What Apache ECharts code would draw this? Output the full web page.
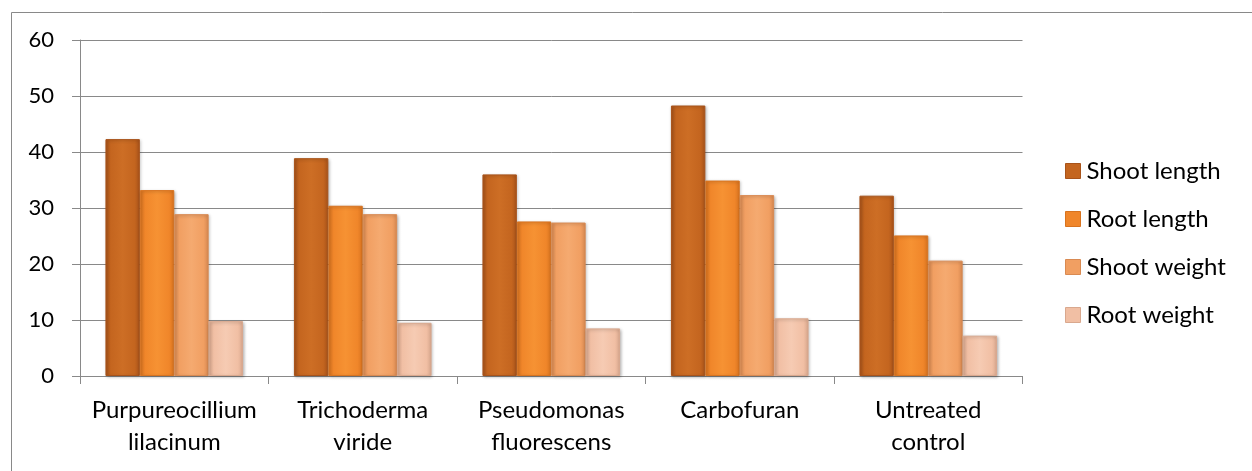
<!DOCTYPE html>
<html>
<head>
<meta charset="utf-8">
<script src="https://cdn.jsdelivr.net/npm/echarts@6/dist/echarts.min.js"></script>
<style>
  html, body { margin: 0; padding: 0; background: #fff; }
  #chart { width: 1252px; height: 471px; }
</style>
</head>
<body>
<div id="chart"></div>
<script>
// treatments on the x axis
var categories = ['Purpureocillium\nlilacinum', 'Trichoderma\nviride', 'Pseudomonas\nfluorescens', 'Carbofuran', 'Untreated\ncontrol'];
var seriesNames = ['Shoot length', 'Root length', 'Shoot weight', 'Root weight'];
var shootLength = [42.3, 38.9, 36.0, 48.3, 32.2];
var rootLength = [33.2, 30.4, 27.6, 34.9, 25.1];
var shootWeight = [28.9, 28.9, 27.4, 32.3, 20.6];
var rootWeight = [9.8, 9.5, 8.5, 10.3, 7.2];

var FONT = 'Lato';
var AXIS_GRAY = '#898989';

// bevel-ish look: darker edges, lighter middle
function barColor(dark, mid, light) {
  return new echarts.graphic.LinearGradient(0, 0, 1, 0, [
    { offset: 0, color: dark },
    { offset: 0.15, color: mid },
    { offset: 0.5, color: light },
    { offset: 0.85, color: mid },
    { offset: 1, color: dark }
  ]);
}

var palette = [
  ['#a8531a', '#c4651f', '#cd6e25'],
  ['#d8731f', '#f0862a', '#f69233'],
  ['#d98a52', '#f19f62', '#f5aa70'],
  ['#d9a88e', '#f1bfa4', '#f6cbb3']
];
var legendIcon = ['#c4651f', '#f0862a', '#f19f62', '#f1bfa4'];

function makeSeries(name, data, idx) {
  var c = palette[idx];
  return {
    name: name,
    type: 'bar',
    data: data,
    barGap: '0%',
    barCategoryGap: '27%',
    itemStyle: {
      color: barColor(c[0], c[1], c[2]),
      borderColor: c[0],
      borderWidth: 1,
      shadowColor: 'rgba(0,0,0,0.25)',
      shadowBlur: 3,
      shadowOffsetX: 1,
      shadowOffsetY: 1
    },
    emphasis: { disabled: true }
  };
}

var myChart = echarts.init(document.getElementById('chart'));

var option = {
  animation: false,
  backgroundColor: '#fff',
  textStyle: { fontFamily: FONT },
  graphic: [{
    type: 'rect',
    shape: { x: 11.5, y: 12.5, width: 1400, height: 600 },
    style: { fill: 'none', stroke: AXIS_GRAY, lineWidth: 1 },
    silent: true,
    z: -1
  }],
  grid: {
    left: 80,
    right: 229.5,
    top: 40,
    bottom: 95
  },
  legend: {
    orient: 'vertical',
    left: 1065,
    top: 159,
    padding: 0,
    itemWidth: 15,
    itemHeight: 15,
    itemGap: 24,
    icon: 'rect',
    data: seriesNames.map(function (n, i) {
      return { name: n, itemStyle: { color: legendIcon[i], borderColor: palette[i][0], borderWidth: 1 } };
    }),
    textStyle: { fontFamily: FONT, fontSize: 24, color: '#000', lineHeight: 24, padding: [0, 0, 0, 1] }
  },
  xAxis: {
    type: 'category',
    data: categories,
    axisLine: { lineStyle: { color: AXIS_GRAY, width: 1 } },
    axisTick: { show: true, length: 8, lineStyle: { color: AXIS_GRAY } },
    axisLabel: {
      interval: 0,
      margin: 18,
      color: '#000',
      fontFamily: FONT,
      fontSize: 24,
      lineHeight: 32
    }
  },
  yAxis: {
    type: 'value',
    min: 0,
    max: 60,
    interval: 10,
    axisLine: { show: true, lineStyle: { color: AXIS_GRAY, width: 1 } },
    axisTick: { show: true, length: 8, lineStyle: { color: AXIS_GRAY } },
    splitLine: { lineStyle: { color: AXIS_GRAY, width: 1 } },
    axisLabel: {
      margin: 26,
      color: '#000',
      fontFamily: FONT,
      fontSize: 22
    }
  },
  series: [
    makeSeries(seriesNames[0], shootLength, 0),
    makeSeries(seriesNames[1], rootLength, 1),
    makeSeries(seriesNames[2], shootWeight, 2),
    makeSeries(seriesNames[3], rootWeight, 3)
  ]
};

myChart.setOption(option);
</script>
</body>
</html>
